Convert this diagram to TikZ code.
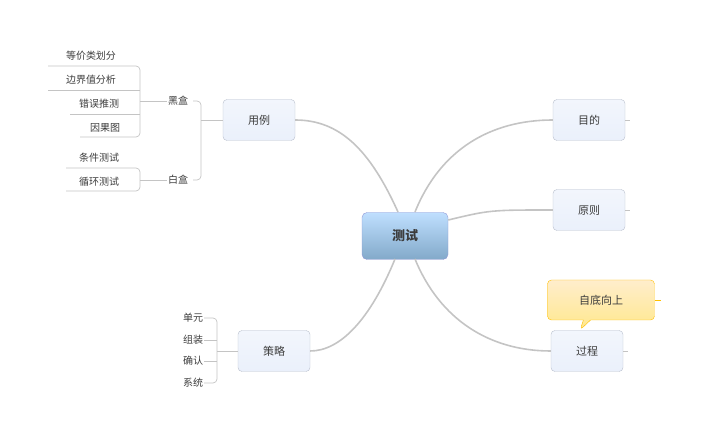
\documentclass[tikz,border=0pt]{standalone}
\usepackage{fontspec}
\setmainfont{Noto Sans CJK SC}
\usetikzlibrary{positioning,shapes.callouts}

\definecolor{topicfill}{HTML}{EAF0FB}
\definecolor{topicline}{HTML}{B8BFCC}
\definecolor{linkgray}{HTML}{C4C4C4}
\definecolor{textgray}{HTML}{3C3C3C}

\tikzset{
    topic/.style={draw=topicline, rounded corners=4pt, top color=white!40!topicfill, bottom color=topicfill,
        minimum width=72pt, minimum height=41pt, text=textgray, font=\fontsize{11}{12}\selectfont},
    central/.style={draw=topicline!80!blue, rounded corners=5pt, top color=blue!50!cyan!25, bottom color=blue!45!cyan!40!gray!70,
        minimum width=86pt, minimum height=47pt, text=textgray, font=\fontsize{13}{14}\selectfont\bfseries},
    leaf/.style={text=textgray, font=\fontsize{10}{11}\selectfont, inner sep=1pt},
    link/.style={draw=linkgray, line width=1.6pt},
    twig/.style={draw=linkgray, line width=0.7pt, rounded corners=4pt}
}

\begin{document}
\begin{tikzpicture}[x=1pt, y=-1pt]
    \useasboundingbox (0,0) rectangle (705,438);

    % Central topic and main branches
    \node[central] (test) at (405,236) {测试};
    \node[topic] (usecase) at (259,120) {用例};
    \node[topic] (goal) at (589,120) {目的};
    \node[topic] (rule) at (589,210) {原则};
    \node[topic] (proc) at (587,351) {过程};
    \node[topic] (strat) at (274,351) {策略};

    \draw[link] (398,212) .. controls (370,150) and (340,120) .. (usecase.east);
    \draw[link] (415,212) .. controls (440,150) and (490,120) .. (goal.west);
    \draw[link] (test.east |- 0,220) .. controls (490,210) .. (rule.west);
    \draw[link] (415,259) .. controls (440,320) and (490,351) .. (proc.west);
    \draw[link] (395,259) .. controls (370,320) and (340,351) .. (strat.east);

    % Stubs on the right-hand topics
    \foreach \t in {goal,rule,proc}
        \draw[twig] (\t.east) -- ++(5,0);

    % Callout
    \node[rectangle callout, draw=orange!50!yellow, rounded corners=4pt, top color=yellow!30!orange!20, bottom color=yellow!60!orange!45,
        minimum width=107pt, minimum height=40pt, text=textgray, font=\fontsize{11}{12}\selectfont,
        callout absolute pointer={(580,330)}] (note) at (601,300) {自底向上};
    \draw[twig, draw=orange!50!yellow] (note.east) -- ++(6,0);

    % Black box / white box
    \node[leaf] (black) at (178,101) {黑盒};
    \node[leaf] (white) at (178,180) {白盒};
    \draw[twig] (usecase.west) -- (201,120);
    \draw[twig] (193,101) -| (201,180) -- (193,180);

    \node[leaf] (eq) at (91,56) {等价类划分};
    \node[leaf] (bv) at (91,80) {边界值分析};
    \node[leaf] (eg) at (99,104) {错误推测};
    \node[leaf] (ce) at (105,128) {因果图};
    \draw[twig] (48,66) -- (140,66) -- (140,137) -- (80,137);
    \draw[twig] (48,90) -- (140,90);
    \draw[twig] (70,114) -- (140,114);
    \draw[twig] (black.west) -- (140,101);

    \node[leaf] (cond) at (99,158) {条件测试};
    \node[leaf] (loop) at (99,182) {循环测试};
    \draw[twig] (66,168) -- (140,168) -- (140,191) -- (66,191);
    \draw[twig] (white.west) -- (140,180);

    % Strategy leaves
    \node[leaf] (unit) at (193,318) {单元};
    \node[leaf] (integ) at (193,340) {组装};
    \node[leaf] (valid) at (193,361) {确认};
    \node[leaf] (sys) at (193,383) {系统};
    \draw[twig] (unit.east) -| (217,383) -- (sys.east);
    \draw[twig] (integ.east) -- (217,340);
    \draw[twig] (valid.east) -- (217,361);
    \draw[twig] (strat.west) -- (217,351);
\end{tikzpicture}
\end{document}
